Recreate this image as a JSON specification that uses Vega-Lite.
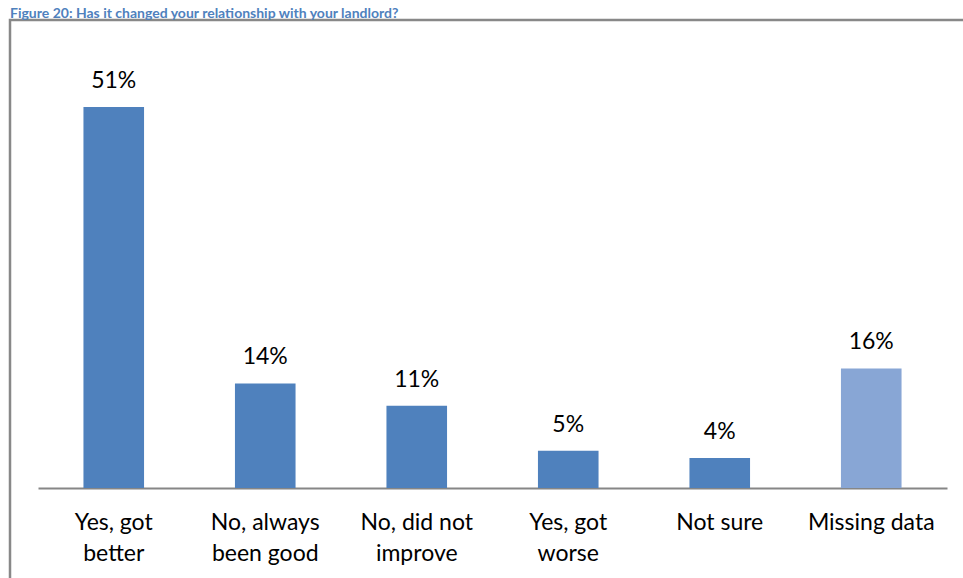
{
  "$schema": "https://vega.github.io/schema/vega-lite/v6.json",
  "autosize": {"type": "none"},
  "padding": {"left": 10, "top": 20, "right": 0, "bottom": 0},
  "width": 960,
  "height": 600,
  "background": "white",
  "title": {
    "text": "Figure 20: Has it changed your relationship with your landlord?",
    "anchor": "start",
    "font": "Lato",
    "fontSize": 14,
    "fontWeight": "bold",
    "color": "#4F81BD",
    "baseline": "bottom",
    "offset": 2,
    "dy": 17
  },
  "config": {
    "view": {"stroke": "#888888", "strokeWidth": 2.5},
    "font": "Lato"
  },
  "data": {
    "values": [
      {"answer": "Yes, got better", "pct": 51, "label": "51%", "type": "answer"},
      {"answer": "No, always been good", "pct": 14, "label": "14%", "type": "answer"},
      {"answer": "No, did not improve", "pct": 11, "label": "11%", "type": "answer"},
      {"answer": "Yes, got worse", "pct": 5, "label": "5%", "type": "answer"},
      {"answer": "Not sure", "pct": 4, "label": "4%", "type": "answer"},
      {"answer": "Missing data", "pct": 16, "label": "16%", "type": "missing"}
    ]
  },
  "encoding": {
    "x": {
      "field": "answer",
      "type": "nominal",
      "sort": null,
      "scale": {"range": [28, 937], "paddingInner": 0.6, "paddingOuter": 0.3},
      "axis": {
        "title": null,
        "offset": -132,
        "labelAngle": 0,
        "labelExpr": "datum.value == 'Yes, got better' ? ['Yes, got', 'better'] : datum.value == 'No, always been good' ? ['No, always', 'been good'] : datum.value == 'No, did not improve' ? ['No, did not', 'improve'] : datum.value == 'Yes, got worse' ? ['Yes, got', 'worse'] : datum.value",
        "labelFontSize": 23,
        "labelColor": "#000000",
        "labelLineHeight": 31,
        "labelPadding": 23,
        "labelBaseline": "top",
        "ticks": false,
        "domainColor": "#868686",
        "domainWidth": 2,
        "labelLimit": 200
      }
    },
    "y": {
      "field": "pct",
      "type": "quantitative",
      "scale": {"domain": [0, 60], "range": [468, 19.8], "nice": false},
      "axis": null
    }
  },
  "layer": [
    {
      "mark": {"type": "bar"},
      "encoding": {
        "color": {
          "field": "type",
          "type": "nominal",
          "scale": {"domain": ["answer", "missing"], "range": ["#4F81BD", "#88A6D5"]},
          "legend": null
        }
      }
    },
    {
      "mark": {"type": "text", "dy": -19, "baseline": "alphabetic", "fontSize": 23, "color": "#000000"},
      "encoding": {"text": {"field": "label"}}
    }
  ]
}
